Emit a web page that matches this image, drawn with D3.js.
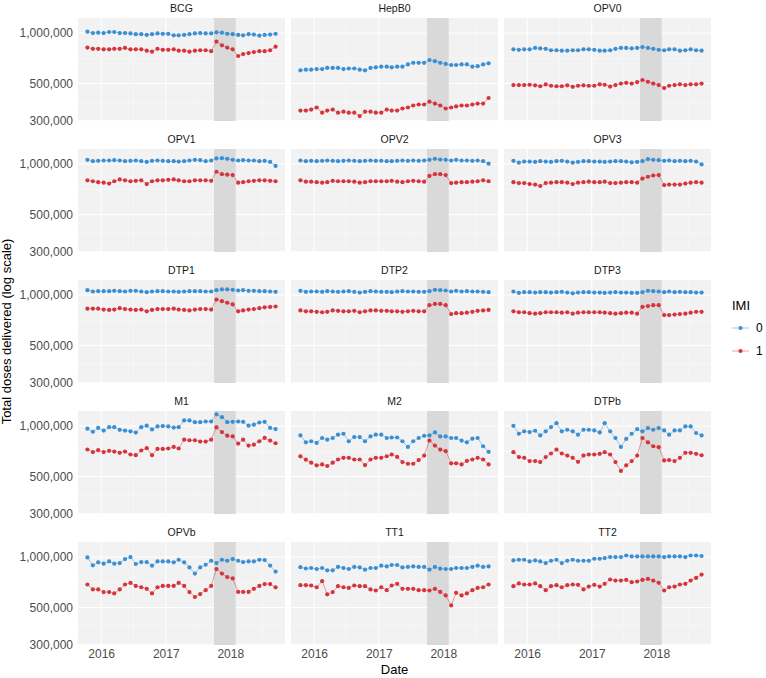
<!DOCTYPE html>
<html>
<head>
<meta charset="utf-8">
<script src="https://cdn.jsdelivr.net/npm/d3@7"></script>
<style>
  body { margin: 0; background: #fff; }
  text { font-family: "Liberation Sans", Arial, sans-serif; }
</style>
</head>
<body>
<div id="chart"></div>
<script>
// vaccines in facet order
var vaccines = ["BCG", "HepB0", "OPV0", "OPV1", "OPV2", "OPV3", "DTP1", "DTP2", "DTP3", "M1", "M2", "DTPb", "OPVb", "TT1", "TT2"];
var firstMonth = "2015-10-15";
var nMonths = 36;
var yTicks = [300000, 500000, 1000000];
var yMinor = [387000, 707000];
var xTicks = ["2016-01-01", "2017-01-01", "2018-01-01"];
var xMinor = ["2016-07-01", "2017-07-01", "2018-07-01"];
var shade = ["2017-10-01", "2018-02-01"];

// monthly doses in thousands, IMI = 0 and IMI = 1
var BCG_0 = [1020, 1000, 1005, 1000, 1015, 1015, 1000, 1000, 995, 985, 985, 975, 985, 995, 990, 990, 970, 970, 975, 985, 995, 1000, 995, 995, 1010, 1005, 990, 985, 975, 970, 985, 980, 965, 975, 980, 990];
var BCG_1 = [820, 805, 805, 800, 800, 805, 805, 815, 800, 800, 800, 785, 775, 805, 795, 795, 800, 785, 785, 775, 785, 790, 790, 780, 890, 845, 820, 800, 730, 750, 760, 770, 780, 780, 790, 830];
var HepB0_0 = [600, 605, 605, 610, 610, 620, 620, 620, 610, 615, 615, 605, 600, 620, 625, 630, 630, 625, 630, 630, 650, 665, 665, 665, 690, 680, 665, 655, 645, 645, 650, 650, 630, 635, 650, 660];
var HepB0_1 = [345, 345, 350, 360, 335, 345, 350, 335, 340, 335, 335, 320, 340, 340, 335, 335, 350, 345, 345, 355, 360, 370, 375, 375, 390, 380, 370, 355, 360, 365, 370, 370, 375, 380, 380, 410];
var OPV0_0 = [800, 795, 800, 800, 815, 810, 805, 790, 790, 785, 785, 790, 790, 800, 800, 795, 785, 785, 790, 805, 815, 815, 810, 815, 825, 815, 805, 795, 790, 800, 800, 785, 790, 800, 790, 785];
var OPV0_1 = [490, 490, 490, 492, 488, 482, 494, 485, 482, 482, 488, 478, 485, 488, 485, 485, 495, 492, 480, 490, 500, 505, 500, 510, 525, 512, 500, 490, 470, 485, 490, 495, 490, 495, 495, 500];
var OPV1_0 = [1060, 1040, 1045, 1050, 1050, 1055, 1050, 1040, 1045, 1050, 1040, 1030, 1045, 1050, 1045, 1040, 1040, 1035, 1040, 1050, 1060, 1055, 1040, 1050, 1080, 1085, 1075, 1060, 1050, 1055, 1050, 1050, 1040, 1045, 1030, 975];
var OPV1_1 = [800, 790, 780, 775, 765, 790, 810, 800, 790, 795, 800, 760, 790, 800, 800, 805, 810, 800, 790, 790, 800, 800, 800, 795, 900, 870, 865, 860, 775, 780, 790, 795, 800, 800, 795, 790];
var OPV2_0 = [1050, 1040, 1045, 1040, 1045, 1050, 1045, 1040, 1045, 1050, 1045, 1040, 1045, 1050, 1045, 1045, 1040, 1040, 1045, 1050, 1045, 1050, 1045, 1050, 1060, 1075, 1065, 1060, 1050, 1060, 1050, 1050, 1045, 1050, 1040, 1005];
var OPV2_1 = [800, 785, 785, 780, 775, 780, 795, 790, 790, 790, 785, 775, 780, 790, 790, 790, 790, 795, 785, 780, 790, 795, 790, 785, 850, 870, 870, 860, 770, 775, 780, 780, 785, 790, 800, 790];
var OPV3_0 = [1045, 1020, 1035, 1035, 1030, 1040, 1035, 1030, 1040, 1045, 1035, 1020, 1030, 1040, 1040, 1035, 1035, 1030, 1035, 1040, 1040, 1035, 1025, 1030, 1040, 1070, 1060, 1055, 1045, 1050, 1040, 1045, 1040, 1045, 1035, 995];
var OPV3_1 = [780, 770, 770, 760, 755, 740, 770, 775, 780, 780, 775, 760, 775, 780, 785, 780, 780, 785, 770, 770, 775, 780, 780, 775, 820, 840, 855, 860, 750, 755, 755, 755, 765, 775, 780, 775];
var DTP1_0 = [1070, 1050, 1055, 1055, 1055, 1060, 1055, 1050, 1060, 1060, 1050, 1040, 1050, 1055, 1055, 1050, 1050, 1045, 1050, 1055, 1055, 1055, 1050, 1050, 1070, 1080, 1080, 1075, 1065, 1070, 1060, 1060, 1055, 1055, 1050, 1045];
var DTP1_1 = [830, 830, 830, 820, 815, 820, 835, 825, 820, 815, 820, 800, 815, 825, 825, 825, 830, 820, 815, 810, 820, 825, 825, 820, 940, 920, 900, 880, 800, 810, 820, 825, 835, 845, 850, 855];
var DTP2_0 = [1060, 1045, 1050, 1050, 1045, 1055, 1050, 1045, 1050, 1055, 1045, 1035, 1045, 1055, 1050, 1045, 1045, 1040, 1050, 1055, 1050, 1050, 1045, 1045, 1055, 1075, 1070, 1065, 1050, 1060, 1050, 1055, 1050, 1050, 1045, 1040];
var DTP2_1 = [810, 800, 800, 795, 790, 795, 810, 805, 800, 800, 805, 790, 800, 810, 810, 805, 805, 800, 800, 795, 800, 805, 800, 800, 870, 885, 885, 870, 770, 780, 780, 785, 795, 805, 810, 815];
var DTP3_0 = [1050, 1030, 1040, 1040, 1035, 1040, 1040, 1035, 1040, 1045, 1035, 1025, 1035, 1040, 1040, 1035, 1035, 1030, 1035, 1040, 1035, 1035, 1030, 1030, 1040, 1060, 1055, 1050, 1040, 1050, 1040, 1045, 1040, 1040, 1035, 1035];
var DTP3_1 = [800, 790, 790, 780, 775, 780, 790, 790, 790, 785, 790, 775, 785, 790, 790, 790, 790, 785, 780, 775, 780, 785, 785, 775, 850, 860, 870, 870, 760, 760, 765, 770, 775, 785, 795, 795];
var M1_0 = [965, 925, 975, 940, 985, 985, 950, 940, 930, 915, 985, 1005, 955, 995, 1000, 995, 980, 985, 1080, 1080, 1055, 1055, 1065, 1065, 1175, 1130, 1055, 1060, 1065, 1060, 1005, 1020, 1050, 1060, 975, 960];
var M1_1 = [725, 700, 718, 700, 712, 705, 693, 705, 677, 671, 715, 738, 671, 731, 731, 735, 751, 735, 830, 823, 823, 808, 808, 830, 982, 921, 876, 868, 786, 830, 765, 775, 812, 850, 820, 790];
var M2_0 = [880, 800, 812, 793, 849, 830, 849, 889, 900, 812, 860, 860, 812, 868, 889, 889, 849, 855, 855, 812, 751, 812, 849, 875, 880, 917, 868, 868, 849, 849, 819, 800, 841, 849, 758, 702];
var M2_1 = [660, 630, 605, 583, 591, 578, 605, 632, 647, 647, 632, 632, 585, 632, 647, 647, 661, 677, 655, 610, 596, 596, 627, 667, 819, 765, 724, 708, 600, 600, 591, 620, 632, 647, 632, 591];
var DTPb_0 = [1004, 900, 930, 921, 938, 880, 930, 986, 1040, 930, 951, 930, 889, 951, 951, 942, 917, 1040, 930, 849, 751, 838, 900, 960, 930, 973, 951, 973, 942, 889, 942, 942, 995, 995, 909, 880];
var DTPb_1 = [699, 653, 647, 618, 618, 610, 653, 686, 724, 686, 667, 647, 612, 667, 677, 677, 683, 699, 677, 610, 540, 583, 618, 667, 849, 800, 758, 748, 624, 627, 618, 647, 693, 693, 683, 670];
var OPVb_0 = [995, 893, 930, 913, 942, 913, 921, 973, 1000, 909, 934, 934, 889, 942, 942, 942, 930, 964, 930, 868, 797, 868, 900, 951, 921, 964, 951, 973, 951, 934, 942, 942, 964, 960, 890, 820];
var OPVb_1 = [686, 641, 641, 618, 618, 607, 641, 686, 701, 673, 661, 647, 607, 661, 673, 673, 673, 701, 673, 618, 578, 602, 635, 673, 849, 797, 760, 746, 620, 620, 620, 647, 673, 690, 690, 660];
var TT1_0 = [870, 855, 861, 849, 861, 834, 834, 873, 861, 849, 873, 868, 841, 861, 861, 889, 880, 897, 897, 868, 873, 880, 873, 873, 841, 873, 853, 849, 849, 861, 861, 861, 873, 889, 873, 880];
var TT1_1 = [680, 680, 677, 661, 718, 600, 618, 671, 661, 655, 677, 671, 671, 641, 632, 661, 635, 677, 693, 647, 647, 647, 635, 635, 632, 647, 620, 591, 515, 612, 591, 607, 635, 655, 661, 686];
var TT2_0 = [955, 964, 964, 942, 955, 942, 921, 951, 964, 921, 951, 964, 951, 951, 951, 977, 977, 986, 1000, 1000, 1000, 1022, 1009, 1009, 1009, 1009, 1009, 1009, 1000, 1009, 1009, 1009, 1000, 1022, 1022, 1015];
var TT2_1 = [671, 696, 686, 686, 696, 671, 635, 671, 680, 661, 680, 686, 683, 641, 667, 683, 667, 693, 735, 724, 724, 731, 708, 715, 731, 741, 724, 702, 632, 661, 667, 686, 693, 724, 751, 786];

var series = {
  BCG: [BCG_0, BCG_1], HepB0: [HepB0_0, HepB0_1], OPV0: [OPV0_0, OPV0_1],
  OPV1: [OPV1_0, OPV1_1], OPV2: [OPV2_0, OPV2_1], OPV3: [OPV3_0, OPV3_1],
  DTP1: [DTP1_0, DTP1_1], DTP2: [DTP2_0, DTP2_1], DTP3: [DTP3_0, DTP3_1],
  M1: [M1_0, M1_1], M2: [M2_0, M2_1], DTPb: [DTPb_0, DTPb_1],
  OPVb: [OPVb_0, OPVb_1], TT1: [TT1_0, TT1_1], TT2: [TT2_0, TT2_1]
};
var imiLevels = ["0", "1"];
var colors = ["#3a8fd3", "#d5343c"];

function draw() {
  var width = 766, height = 678;
  var panelW = 207, panelH = 103;
  var padL = 78, padT = 18, gapX = 6, stepY = 131;

  var parse = d3.timeParse("%Y-%m-%d");
  var start = parse(firstMonth);
  var dates = d3.range(nMonths).map(function(i) { return d3.timeMonth.offset(start, i); });

  var span = dates[nMonths - 1] - dates[0];
  var x = d3.scaleTime()
    .domain([new Date(+dates[0] - span * 0.05), new Date(+dates[nMonths - 1] + span * 0.05)])
    .range([0, panelW]);
  var y = d3.scaleLog().domain([299000, 1230000]).range([panelH, 0]);

  var svg = d3.select("#chart").append("svg").attr("width", width).attr("height", height);

  var line = d3.line()
    .x(function(d) { return x(d.date); })
    .y(function(d) { return y(d.value); });

  vaccines.forEach(function(name, k) {
    var col = k % 3, row = Math.floor(k / 3);
    var g = svg.append("g")
      .attr("transform", "translate(" + (padL + col * (panelW + gapX)) + "," + (padT + row * stepY) + ")");

    g.append("rect").attr("width", panelW).attr("height", panelH).attr("fill", "#f2f2f2");

    g.selectAll(".ymin").data(yMinor).enter().append("line")
      .attr("x1", 0).attr("x2", panelW)
      .attr("y1", function(d) { return y(d); }).attr("y2", function(d) { return y(d); })
      .attr("stroke", "#fafafa").attr("stroke-width", 0.5);
    g.selectAll(".xmin").data(xMinor).enter().append("line")
      .attr("x1", function(d) { return x(parse(d)); }).attr("x2", function(d) { return x(parse(d)); })
      .attr("y1", 0).attr("y2", panelH)
      .attr("stroke", "#fafafa").attr("stroke-width", 0.5);
    g.selectAll(".ymaj").data(yTicks).enter().append("line")
      .attr("x1", 0).attr("x2", panelW)
      .attr("y1", function(d) { return y(d); }).attr("y2", function(d) { return y(d); })
      .attr("stroke", "#ffffff").attr("stroke-width", 1);
    g.selectAll(".xmaj").data(xTicks).enter().append("line")
      .attr("x1", function(d) { return x(parse(d)); }).attr("x2", function(d) { return x(parse(d)); })
      .attr("y1", 0).attr("y2", panelH)
      .attr("stroke", "#ffffff").attr("stroke-width", 1);

    g.append("rect")
      .attr("x", x(parse(shade[0]))).attr("width", x(parse(shade[1])) - x(parse(shade[0])))
      .attr("y", 0).attr("height", panelH)
      .attr("fill", "#d9d9d9");

    g.append("text").attr("x", panelW / 2).attr("y", -6)
      .attr("text-anchor", "middle").attr("font-size", 10.5).attr("fill", "#1a1a1a")
      .text(name);

    series[name].forEach(function(vals, s) {
      var pts = vals.map(function(v, i) { return { date: dates[i], value: v * 1000 }; });
      g.append("path").datum(pts).attr("d", line)
        .attr("fill", "none").attr("stroke", colors[s]).attr("stroke-width", 0.8).attr("stroke-opacity", 0.6);
      g.selectAll(".pt" + s).data(pts).enter().append("circle")
        .attr("cx", function(d) { return x(d.date); })
        .attr("cy", function(d) { return y(d.value); })
        .attr("r", 2.1).attr("fill", colors[s]);
    });

    if (col === 0) {
      var ya = g.append("g")
        .call(d3.axisLeft(y).tickValues(yTicks).tickFormat(d3.format(",")).tickSize(0).tickPadding(5));
      ya.select(".domain").remove();
      ya.selectAll("text").attr("font-size", 12).attr("fill", "#4d4d4d").attr("font-family", "Liberation Sans, Arial, sans-serif");
    }
    if (row === 4) {
      var xa = g.append("g").attr("transform", "translate(0," + panelH + ")")
        .call(d3.axisBottom(x).tickValues(xTicks.map(parse)).tickFormat(d3.timeFormat("%Y")).tickSize(0).tickPadding(4));
      xa.select(".domain").remove();
      xa.selectAll("text").attr("font-size", 12).attr("fill", "#4d4d4d").attr("font-family", "Liberation Sans, Arial, sans-serif");
    }
  });

  // axis titles
  svg.append("text").attr("x", padL + (3 * panelW + 2 * gapX) / 2).attr("y", 674)
    .attr("text-anchor", "middle").attr("font-size", 13).attr("fill", "#000").text("Date");
  svg.append("text")
    .attr("transform", "translate(11," + (padT + (4 * stepY + panelH) / 2) + ") rotate(-90)")
    .attr("text-anchor", "middle").attr("font-size", 13).attr("fill", "#000")
    .text("Total doses delivered (log scale)");

  // legend
  var lg = svg.append("g").attr("transform", "translate(732,300)");
  lg.append("text").attr("x", 0).attr("y", 10).attr("font-size", 13).attr("fill", "#000").text("IMI");
  imiLevels.forEach(function(lv, i) {
    var cy = 28 + i * 23;
    lg.append("line").attr("x1", 0).attr("x2", 17).attr("y1", cy).attr("y2", cy)
      .attr("stroke", colors[i]).attr("stroke-width", 0.8).attr("stroke-opacity", 0.6);
    lg.append("circle").attr("cx", 8.5).attr("cy", cy).attr("r", 2.1).attr("fill", colors[i]);
    lg.append("text").attr("x", 24).attr("y", cy + 4).attr("font-size", 12).attr("fill", "#000").text(lv);
  });
}
draw();
</script>
</body>
</html>
